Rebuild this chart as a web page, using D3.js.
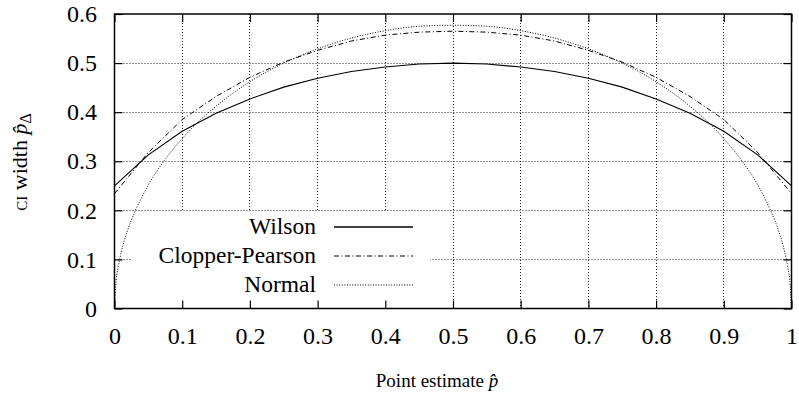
<!DOCTYPE html>
<html>
<head>
<meta charset="utf-8">
<script src="https://cdn.jsdelivr.net/npm/d3@7"></script>
<style>
  body { margin: 0; background: #fff; }
  svg { display: block; }
  svg text { font-family: "Liberation Serif", "Tinos", "Times New Roman", "DejaVu Serif", serif !important; fill: #000; }
</style>
</head>
<body>
<svg id="chart" width="799" height="398"></svg>
<script>
// Width of the 95% confidence interval against the point estimate, per method.
const pGrid = [0, 0.05, 0.1, 0.15, 0.2, 0.25, 0.3, 0.35, 0.4, 0.45, 0.5,
               0.55, 0.6, 0.65, 0.7, 0.75, 0.8, 0.85, 0.9, 0.95, 1];
const wilson = [0.250, 0.313, 0.361, 0.398, 0.427, 0.451, 0.469, 0.483, 0.492, 0.498, 0.500,
                0.498, 0.492, 0.483, 0.469, 0.451, 0.427, 0.398, 0.361, 0.313, 0.250];
const clopperPearson = [0.234, 0.318, 0.385, 0.432, 0.471, 0.502, 0.526, 0.545, 0.557, 0.563, 0.565,
                        0.563, 0.557, 0.545, 0.526, 0.502, 0.471, 0.432, 0.385, 0.318, 0.234];
const normalP = [0, 0.0025, 0.005, 0.01, 0.02, 0.03, 0.04, 0.05, 0.075, 0.1, 0.125, 0.15, 0.2,
                 0.25, 0.3, 0.35, 0.4, 0.45, 0.5, 0.55, 0.6, 0.65, 0.7, 0.75, 0.8, 0.85, 0.875,
                 0.9, 0.925, 0.95, 0.96, 0.97, 0.98, 0.99, 0.995, 0.9975, 1];
const normalW = [0, 0.058, 0.081, 0.115, 0.162, 0.197, 0.226, 0.252, 0.304, 0.346, 0.382, 0.412, 0.462,
                 0.500, 0.529, 0.551, 0.566, 0.575, 0.577, 0.575, 0.566, 0.551, 0.529, 0.500, 0.462, 0.412, 0.382,
                 0.346, 0.304, 0.252, 0.226, 0.197, 0.162, 0.115, 0.081, 0.058, 0];

const xTicks = [0, 0.1, 0.2, 0.3, 0.4, 0.5, 0.6, 0.7, 0.8, 0.9, 1];
const xTickLabels = ["0", "0.1", "0.2", "0.3", "0.4", "0.5", "0.6", "0.7", "0.8", "0.9", "1"];
const yTicks = [0, 0.1, 0.2, 0.3, 0.4, 0.5, 0.6];
const yTickLabels = ["0", "0.1", "0.2", "0.3", "0.4", "0.5", "0.6"];
const seriesNames = ["Wilson", "Clopper-Pearson", "Normal"];

const serif = '"Liberation Serif", "Tinos", "Times New Roman", "DejaVu Serif", serif';
const svg = d3.select("#chart");
const box = { left: 114.5, right: 791.5, top: 14, bottom: 308.5 };
const x = d3.scaleLinear().domain([0, 1]).range([box.left, box.right]);
const y = d3.scaleLinear().domain([0, 0.6]).range([box.bottom, box.top]);
const crisp = v => Math.round(v - 0.5) + 0.5;

const styles = [
  { dash: null, width: 1.1, color: "#000" },
  { dash: "5,2.5,1,2.5", width: 1, color: "#000" },
  { dash: "1,1.6", width: 1, color: "#000" }
];

// dotted grid at interior ticks
const grid = svg.append("g").attr("stroke", "#222").attr("stroke-width", 1)
  .attr("stroke-dasharray", "1,2").attr("fill", "none");
xTicks.slice(1, -1).forEach(t => {
  grid.append("line").attr("x1", crisp(x(t))).attr("x2", crisp(x(t)))
    .attr("y1", box.top).attr("y2", box.bottom);
});
yTicks.slice(1, -1).forEach(t => {
  grid.append("line").attr("y1", crisp(y(t))).attr("y2", crisp(y(t)))
    .attr("x1", box.left).attr("x2", box.right);
});

// opaque key background
svg.append("rect").attr("x", 132).attr("y", 212).attr("width", 298).attr("height", 95)
  .attr("fill", "#fff");

// curves
const line = d3.line().x(d => x(d[0])).y(d => y(d[1]));
const series = [
  pGrid.map((p, i) => [p, wilson[i]]),
  pGrid.map((p, i) => [p, clopperPearson[i]]),
  normalP.map((p, i) => [p, normalW[i]])
];
series.forEach((pts, k) => {
  const gen = k === 2 ? line.curve(d3.curveMonotoneX) : line.curve(d3.curveLinear);
  svg.append("path").attr("d", gen(pts)).attr("fill", "none")
    .attr("stroke", styles[k].color).attr("stroke-width", styles[k].width)
    .attr("stroke-dasharray", styles[k].dash);
});

// axes with inward ticks on all four sides
const tickFont = 24;
const keyFont = 23.5;
const bottomAxis = d3.axisBottom(x).tickValues(xTicks).tickFormat((d, i) => xTickLabels[i])
  .tickSize(-8).tickPadding(18.5);
const leftAxis = d3.axisLeft(y).tickValues(yTicks).tickFormat((d, i) => yTickLabels[i])
  .tickSize(-8).tickPadding(17.5);
const topAxis = d3.axisTop(x).tickValues(xTicks).tickFormat("").tickSize(-8);
const rightAxis = d3.axisRight(y).tickValues(yTicks).tickFormat("").tickSize(-8);

function styleAxis(g) {
  g.attr("font-family", null);
  g.select(".domain").remove();
  g.selectAll(".tick line").attr("stroke", "#000").attr("stroke-width", 1.2);
  g.selectAll(".tick text").style("font-family", serif)
    .attr("font-size", tickFont).attr("fill", "#000");
}
svg.append("g").attr("transform", `translate(0,${box.bottom})`).call(bottomAxis).call(styleAxis);
svg.append("g").attr("transform", `translate(${box.left},0)`).call(leftAxis).call(styleAxis);
svg.append("g").attr("transform", `translate(0,${box.top})`).call(topAxis).call(styleAxis);
svg.append("g").attr("transform", `translate(${box.right},0)`).call(rightAxis).call(styleAxis);

// frame
svg.append("rect").attr("x", box.left).attr("y", box.top)
  .attr("width", box.right - box.left).attr("height", box.bottom - box.top)
  .attr("fill", "none").attr("stroke", "#000").attr("stroke-width", 1.5);

// key
const keyRows = [227, 256, 285];
seriesNames.forEach((name, k) => {
  svg.append("text").attr("x", 316).attr("y", keyRows[k] + 7).attr("text-anchor", "end")
    .style("font-family", serif).attr("font-size", keyFont).text(name);
  svg.append("line").attr("x1", 334).attr("x2", 413).attr("y1", keyRows[k]).attr("y2", keyRows[k])
    .attr("stroke", styles[k].color).attr("stroke-width", k === 0 ? 1.6 : styles[k].width)
    .attr("stroke-dasharray", styles[k].dash);
});

// axis titles
const xTitle = svg.append("text").attr("x", 437).attr("y", 387).attr("text-anchor", "middle")
  .style("font-family", serif).attr("font-size", 19);
xTitle.append("tspan").text("Point estimate ");
xTitle.append("tspan").attr("font-style", "italic").text("p\u0302");

const yTitle = svg.append("text").attr("transform", "translate(27,162) rotate(-90)")
  .attr("text-anchor", "middle").style("font-family", serif).attr("font-size", 22);
yTitle.append("tspan").style("font-variant", "small-caps").text("ci");
yTitle.append("tspan").text(" width ");
yTitle.append("tspan").attr("font-style", "italic").text("p\u0302");
yTitle.append("tspan").attr("font-size", 16).attr("dy", 4).text("\u0394");
</script>
</body>
</html>
